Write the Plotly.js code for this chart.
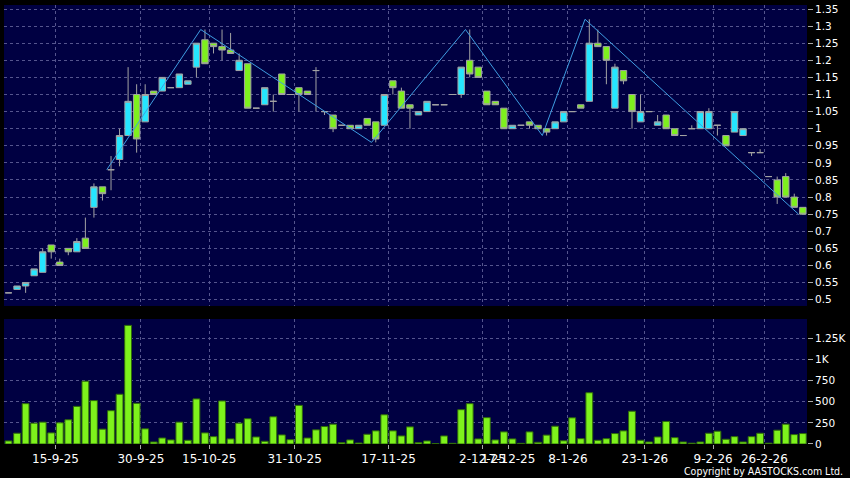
<!DOCTYPE html>
<html><head><meta charset="utf-8">
<script src="https://cdn.plot.ly/plotly-3.0.1.min.js"></script>
<style>html,body{margin:0;padding:0;background:#000;}#chart{width:850px;height:478px;}</style>
</head><body><div id="chart"></div>
<script>
const dates = [
 '2025-09-05','2025-09-08','2025-09-09','2025-09-10','2025-09-11','2025-09-12','2025-09-15','2025-09-16','2025-09-17','2025-09-18',
 '2025-09-19','2025-09-22','2025-09-23','2025-09-25','2025-09-26','2025-09-29','2025-09-30','2025-10-02','2025-10-03','2025-10-06',
 '2025-10-08','2025-10-09','2025-10-13','2025-10-14','2025-10-15','2025-10-16','2025-10-17','2025-10-20','2025-10-21','2025-10-23',
 '2025-10-24','2025-10-27','2025-10-28','2025-10-30','2025-10-31','2025-11-03','2025-11-04','2025-11-05','2025-11-06','2025-11-07',
 '2025-11-10','2025-11-11','2025-11-12','2025-11-13','2025-11-14','2025-11-17','2025-11-18','2025-11-19','2025-11-20','2025-11-21',
 '2025-11-24','2025-11-25','2025-11-26','2025-11-27','2025-11-28','2025-12-01','2025-12-02','2025-12-08','2025-12-12','2025-12-17',
 '2025-12-18','2025-12-19','2025-12-22','2025-12-23','2025-12-29','2025-12-30','2026-01-08','2026-01-09','2026-01-12','2026-01-13',
 '2026-01-14','2026-01-15','2026-01-19','2026-01-20','2026-01-22','2026-01-23','2026-01-26','2026-01-27','2026-01-28','2026-01-29',
 '2026-01-30','2026-02-02','2026-02-04','2026-02-09','2026-02-10','2026-02-11','2026-02-12','2026-02-20','2026-02-24','2026-02-26',
 '2026-02-27','2026-03-02','2026-03-03','2026-03-04'
];
const open = [
 0.52,0.53,0.54,0.57,0.58,0.66,0.61,0.65,0.64,0.68,
 0.77,0.83,0.88,0.91,0.98,1.10,1.02,1.11,1.11,1.12,
 1.12,1.13,1.18,1.26,1.25,1.24,1.23,1.17,1.19,1.06,
 1.07,1.08,1.16,1.10,1.12,1.11,1.17,1.05,1.04,1.01,
 1.01,1.00,1.03,1.02,1.01,1.14,1.11,1.07,1.04,1.05,
 1.07,1.07,1.10,1.10,1.20,1.18,1.11,1.08,1.06,1.00,
 1.01,1.02,1.01,1.00,1.00,1.02,1.05,1.07,1.08,1.25,
 1.24,1.06,1.17,1.10,1.02,1.05,1.01,1.04,1.00,0.98,
 1.00,1.00,1.00,1.01,0.98,0.99,0.98,0.93,0.93,0.86,
 0.85,0.86,0.80,0.77
];
const high = [
 0.52,0.54,0.55,0.59,0.65,0.66,0.62,0.65,0.68,0.74,
 0.84,0.83,0.92,1.00,1.18,1.13,1.13,1.11,1.15,1.12,
 1.16,1.14,1.25,1.29,1.25,1.29,1.28,1.22,1.19,1.06,
 1.12,1.10,1.16,1.10,1.12,1.11,1.18,1.05,1.04,1.01,
 1.01,1.01,1.03,1.02,1.10,1.14,1.12,1.07,1.05,1.08,
 1.07,1.07,1.10,1.18,1.29,1.18,1.11,1.08,1.06,1.01,
 1.01,1.02,1.01,1.00,1.02,1.05,1.05,1.07,1.32,1.29,
 1.24,1.19,1.17,1.10,1.10,1.05,1.04,1.04,1.00,0.98,
 1.01,1.05,1.06,1.01,0.98,1.05,1.00,0.93,0.94,0.86,
 0.86,0.87,0.81,0.77
];
const low = [
 0.52,0.53,0.52,0.57,0.58,0.62,0.60,0.63,0.64,0.65,
 0.74,0.79,0.82,0.89,0.98,0.93,1.02,1.10,1.11,1.12,
 1.12,1.13,1.15,1.19,1.22,1.20,1.22,1.17,1.06,1.06,
 1.07,1.05,1.10,1.10,1.05,1.10,1.05,1.04,0.99,1.01,
 1.00,1.00,1.01,0.96,1.01,1.10,1.06,1.00,1.04,1.05,
 1.07,1.07,1.10,1.09,1.15,1.15,1.07,1.07,1.00,1.00,
 1.01,1.00,1.00,0.98,1.00,1.02,1.05,1.06,1.08,1.24,
 1.13,1.06,1.13,1.00,1.02,1.05,1.01,1.00,0.98,0.98,
 1.00,1.00,1.00,0.98,0.95,0.99,0.98,0.92,0.93,0.86,
 0.78,0.80,0.77,0.75
];
const close = [
 0.52,0.54,0.55,0.59,0.64,0.64,0.60,0.64,0.67,0.65,
 0.83,0.81,0.88,0.98,1.08,0.97,1.10,1.10,1.15,1.12,
 1.16,1.14,1.25,1.19,1.24,1.23,1.22,1.20,1.06,1.06,
 1.12,1.08,1.10,1.10,1.10,1.10,1.17,1.05,1.00,1.01,
 1.00,1.01,1.01,0.97,1.10,1.12,1.06,1.06,1.05,1.08,
 1.07,1.07,1.10,1.18,1.16,1.15,1.07,1.07,1.00,1.01,
 1.01,1.01,1.00,0.99,1.02,1.05,1.05,1.06,1.25,1.24,
 1.20,1.18,1.14,1.05,1.05,1.05,1.02,1.00,0.98,0.98,
 1.00,1.05,1.05,1.01,0.95,1.05,1.00,0.93,0.93,0.86,
 0.80,0.80,0.77,0.75
];
const volume = [
 36,127,476,246,258,131,250,286,444,741,
 512,175,393,587,1400,480,179,24,71,48,
 258,44,532,131,87,508,60,246,298,83,
 32,321,107,51,456,71,167,206,234,16,
 48,12,115,155,345,155,95,202,16,36,
 5,95,8,405,476,60,311,48,143,60,
 8,143,20,105,210,38,309,63,605,44,
 63,123,155,387,44,24,83,266,75,24,
 10,24,127,151,56,87,24,87,127,10,
 163,234,111,123
];
const zigzagDates = ['2025-09-23','2025-10-14','2025-11-13','2025-11-28','2025-12-23','2026-01-12','2026-03-04'];
const zigzagValues = [0.88,1.29,0.96,1.29,0.98,1.32,0.75];
const tickDates = ['2025-09-15','2025-09-30','2025-10-15','2025-10-31','2025-11-17','2025-12-02','2025-12-17','2026-01-08','2026-01-23','2026-02-09','2026-02-26'];
const volTickVals = [0,250,500,750,1000,1250];
const volTickText = ['0','250','500','750','1K','1.25K'];

const pos = dates.map((d, i) => i);
const tickvals = tickDates.map(d => dates.indexOf(d) - 0.5);
const ticktext = tickDates.map(d => { const p = d.split('-'); return (+p[2]) + '-' + (+p[1]) + '-' + p[0].slice(2); });

const gridColor = '#55558e';
const gridDash = '3px,3px';
const xRange = [-0.53, 93.49];

const traces = [
 {type:'candlestick', x:pos, open:open, high:high, low:low, close:close, xaxis:'x', yaxis:'y',
  increasing:{line:{color:'#a3a3a3', width:1}, fillcolor:'#25e6ff'},
  decreasing:{line:{color:'#a3a3a3', width:1}, fillcolor:'#7ef01e'},
  whiskerwidth:0, hoverinfo:'skip'},
 {type:'scatter', mode:'lines', x:zigzagDates.map(d => dates.indexOf(d) - 0.5), y:zigzagValues,
  xaxis:'x', yaxis:'y', line:{color:'#3f9de2', width:1}, hoverinfo:'skip'},
 {type:'bar', x:pos, y:volume, xaxis:'x2', yaxis:'y2',
  marker:{color:'#7ef21c', line:{color:'#2f6a0a', width:1}}, hoverinfo:'skip'}
];

const layout = {
 width:850, height:478,
 paper_bgcolor:'#000000', plot_bgcolor:'#000042',
 margin:{l:4, r:43, t:5, b:34},
 showlegend:false,
 boxgap:0.25, boxgroupgap:0, bargap:0.2,
 font:{family:'DejaVu Sans', color:'#ffffff'},
 xaxis:{anchor:'y', range:xRange, tickmode:'array', tickvals:tickvals, ticktext:ticktext,
  showticklabels:false, ticks:'', showgrid:true, gridcolor:gridColor, griddash:gridDash, gridwidth:1,
  zeroline:false, showline:false, rangeslider:{visible:false}, fixedrange:true},
 xaxis2:{anchor:'y2', range:xRange, tickmode:'array', tickvals:tickvals, ticktext:ticktext,
  tickangle:0, ticks:'outside', ticklen:4, tickcolor:'#aaaaaa',
  tickfont:{size:12, color:'#ffffff', family:'DejaVu Sans'},
  showgrid:true, gridcolor:gridColor, griddash:gridDash, gridwidth:1, zeroline:false, showline:false},
 yaxis:{domain:[0.3144, 1], side:'right', range:[0.4816, 1.3617], tick0:0.5, dtick:0.05,
  ticks:'outside', ticklen:5, tickcolor:'#aaaaaa', tickfont:{size:10.5, color:'#ffffff'},
  showgrid:true, gridcolor:gridColor, griddash:gridDash, gridwidth:1, zeroline:false, showline:false},
 yaxis2:{domain:[0, 0.2847], side:'right', range:[0, 1475], tickmode:'array', tickvals:volTickVals, ticktext:volTickText,
  ticks:'outside', ticklen:5, tickcolor:'#aaaaaa', tickfont:{size:10.5, color:'#ffffff'},
  showgrid:true, gridcolor:gridColor, griddash:gridDash, gridwidth:1, zeroline:false, showline:false},
 annotations:[{text:'Copyright by AASTOCKS.com Ltd.', xref:'paper', yref:'paper', x:1.0473, y:-0.0615,
  xanchor:'right', yanchor:'middle', showarrow:false,
  font:{size:10.5, family:'DejaVu Sans Condensed, DejaVu Sans', color:'#ffffff'}}]
};

Plotly.newPlot('chart', traces, layout, {staticPlot:true, displayModeBar:false});
</script>
</body></html>
